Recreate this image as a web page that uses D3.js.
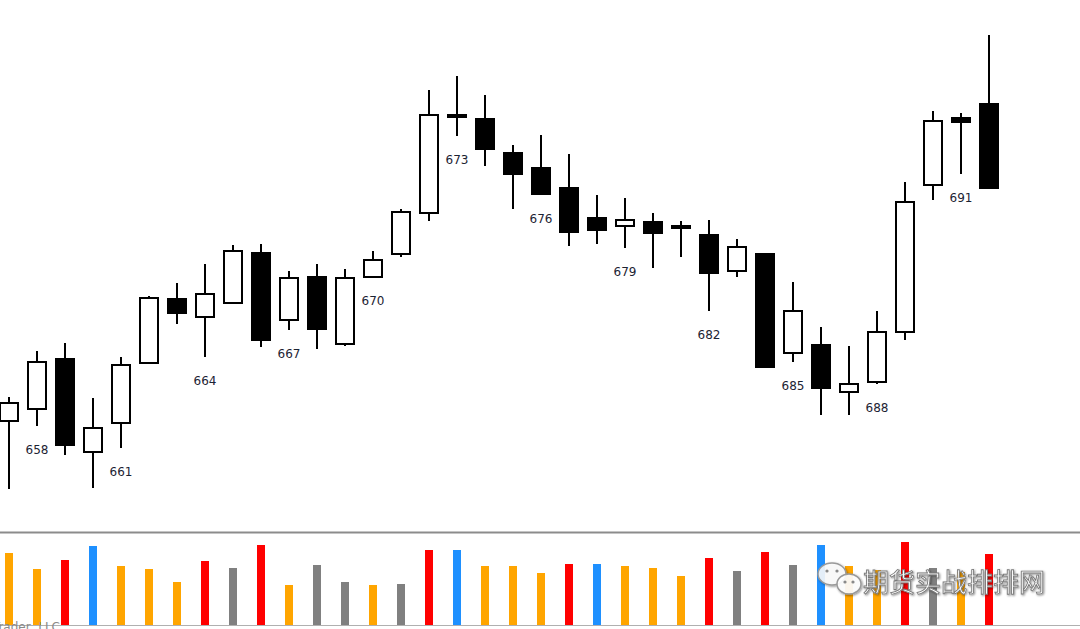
<!DOCTYPE html>
<html lang="en">
  <head>
    <meta charset="utf-8" />
    <title>Bars 657-692</title>
    <script src="https://d3js.org/d3.v7.min.js"></script>
    <style type="text/css">
        body { margin:0; background:#fff; }
        svg { display:block; }
        .barnum { text-anchor:middle; font-family:Tahoma, "DejaVu Sans", sans-serif; font-size:12px; fill:#1c2333; }
    </style>
  </head>
  <body>
    <svg id="chart"></svg>
  </body>
  <script type="text/javascript">

    var w = 1080,
        h = 629;

    // bar numbers and prices, one entry per bar
    var bars   = d3.range(657, 693);
    var open   = [179,191,241,148,177,237,301,283,297,347,280,323,256,323,346,387,485,481,447,432,412,382,374,378,374,365,329,346,247,255,208,218,268,415,482,496];
    var high   = [203,249,257,202,243,304,317,336,355,356,329,336,331,349,391,510,524,505,455,465,446,405,402,387,379,380,361,347,318,273,254,289,418,489,487,565];
    var low    = [111,174,145,112,152,237,276,243,297,253,270,251,254,323,343,379,464,434,391,405,354,356,352,332,343,289,323,232,238,185,185,216,260,400,426,411];
    var close  = [197,238,155,172,235,302,287,306,349,260,322,271,322,340,388,485,483,451,426,406,368,370,380,367,372,327,353,233,289,212,216,268,398,479,478,412];

    // volume and its class
    var volume = [72,56,65,79,59,56,43,64,57,80,40,60,43,40,41,75,75,59,59,52,61,61,59,57,49,67,54,73,60,80,59,55,83,57,53,71];
    var volType = ['normal','normal','high','climax','normal','normal','normal','high','low','high',
                   'normal','low','low','normal','low','high','climax','normal','normal','normal',
                   'high','climax','normal','normal','normal','high','low','high','low','climax',
                   'normal','normal','high','low','normal','high'];

    // every third bar gets its number
    var labelled = bars.filter(function(b) { return (b - 655) % 3 === 0; });

    var svg = d3.select('#chart')
                .attr('width', w)
                .attr('height', h);

    var xScale = d3.scaleBand()
                   .domain(bars)
                   .range([-5, -5 + 28 * bars.length]);
    var yScale = d3.scaleLinear()
                   .domain([100, 600])
                   .range([500, 0]);
    var vScale = d3.scaleLinear()
                   .domain([0, 80])
                   .range([625, 545]);
    var vColor = d3.scaleOrdinal()
                   .domain(['normal', 'high', 'climax', 'low'])
                   .range(['#ffa500', '#ff0000', '#1e90ff', '#808080']);

    function cx(b) { return xScale(b) + xScale.bandwidth() / 2; }

    var data = bars.map(function(b, i) {
        return { bar: b, o: open[i], h: high[i], l: low[i], c: close[i], v: volume[i], t: volType[i] };
    });

    // wicks
    svg.append('g').selectAll('line')
       .data(data)
       .enter()
       .append('line')
       .attr('x1', function(d) { return cx(d.bar); })
       .attr('x2', function(d) { return cx(d.bar); })
       .attr('y1', function(d) { return yScale(d.h); })
       .attr('y2', function(d) { return yScale(d.l); })
       .attr('stroke', '#000')
       .attr('stroke-width', 2);

    // bodies
    svg.append('g').selectAll('rect')
       .data(data)
       .enter()
       .append('rect')
       .attr('x', function(d) { return cx(d.bar) - 9; })
       .attr('y', function(d) { return yScale(Math.max(d.o, d.c)); })
       .attr('width', 18)
       .attr('height', function(d) { return Math.max(1, Math.abs(yScale(d.o) - yScale(d.c))); })
       .attr('fill', function(d) { return d.c >= d.o ? '#fff' : '#000'; })
       .attr('stroke', '#000')
       .attr('stroke-width', 2);

    // bar numbers under the lows
    var byBar = {};
    data.forEach(function(d) { byBar[d.bar] = d; });
    svg.append('g').selectAll('text')
       .data(labelled)
       .enter()
       .append('text')
       .attr('class', 'barnum')
       .attr('x', function(b) { return cx(b); })
       .attr('y', function(b) { return yScale(byBar[b].l) + 28; })
       .text(function(b) { return b; });

    // volume panel
    svg.append('line')
       .attr('x1', 0).attr('x2', w)
       .attr('y1', 532.5).attr('y2', 532.5)
       .attr('stroke', '#8c8c8c')
       .attr('stroke-width', 2);

    svg.append('g').selectAll('rect')
       .data(data)
       .enter()
       .append('rect')
       .attr('x', function(d) { return cx(d.bar) - 4; })
       .attr('y', function(d) { return vScale(d.v); })
       .attr('width', 8)
       .attr('height', function(d) { return vScale(0) - vScale(d.v); })
       .attr('fill', function(d) { return vColor(d.t); });

    svg.append('line')
       .attr('x1', 0).attr('x2', w)
       .attr('y1', 625.5).attr('y2', 625.5)
       .attr('stroke', '#b0b0b0')
       .attr('stroke-width', 1);

    svg.append('text')
       .attr('x', 60)
       .attr('y', 631)
       .attr('text-anchor', 'end')
       .attr('font-family', 'Tahoma, "DejaVu Sans", sans-serif')
       .attr('font-size', 12)
       .attr('fill', '#8a8a8a')
       .text('© 2019 NinjaTrader, LLC');

    // watermark
    var defs = svg.append('defs');
    var f = defs.append('filter').attr('id', 'sh').attr('x', '-20%').attr('y', '-20%').attr('width', '140%').attr('height', '140%');
    f.append('feDropShadow').attr('dx', 1).attr('dy', 1).attr('stdDeviation', 1).attr('flood-color', '#000').attr('flood-opacity', 0.45);

    var wm = svg.append('g').attr('filter', 'url(#sh)');
    wm.append('ellipse').attr('cx', 832).attr('cy', 574).attr('rx', 14).attr('ry', 11)
      .attr('fill', 'rgba(255,255,255,0.85)').attr('stroke', '#9a9a9a').attr('stroke-width', 1.5);
    wm.append('ellipse').attr('cx', 849).attr('cy', 584).attr('rx', 12).attr('ry', 10)
      .attr('fill', 'rgba(255,255,255,0.9)').attr('stroke', '#9a9a9a').attr('stroke-width', 1.5);
    [[827, 571], [837, 571], [845, 582], [853, 582]].forEach(function(p) {
        wm.append('circle').attr('cx', p[0]).attr('cy', p[1]).attr('r', 1.6).attr('fill', '#8a8a8a');
    });
    wm.append('text')
      .attr('x', 863)
      .attr('y', 592)
      .attr('font-family', '"Noto Sans CJK SC", sans-serif')
      .attr('font-size', 26)
      .attr('fill', '#fff')
      .attr('stroke', '#7a7a7a')
      .attr('stroke-width', 0.9)
      .text('期货实战排排网');
    </script>
</html>
